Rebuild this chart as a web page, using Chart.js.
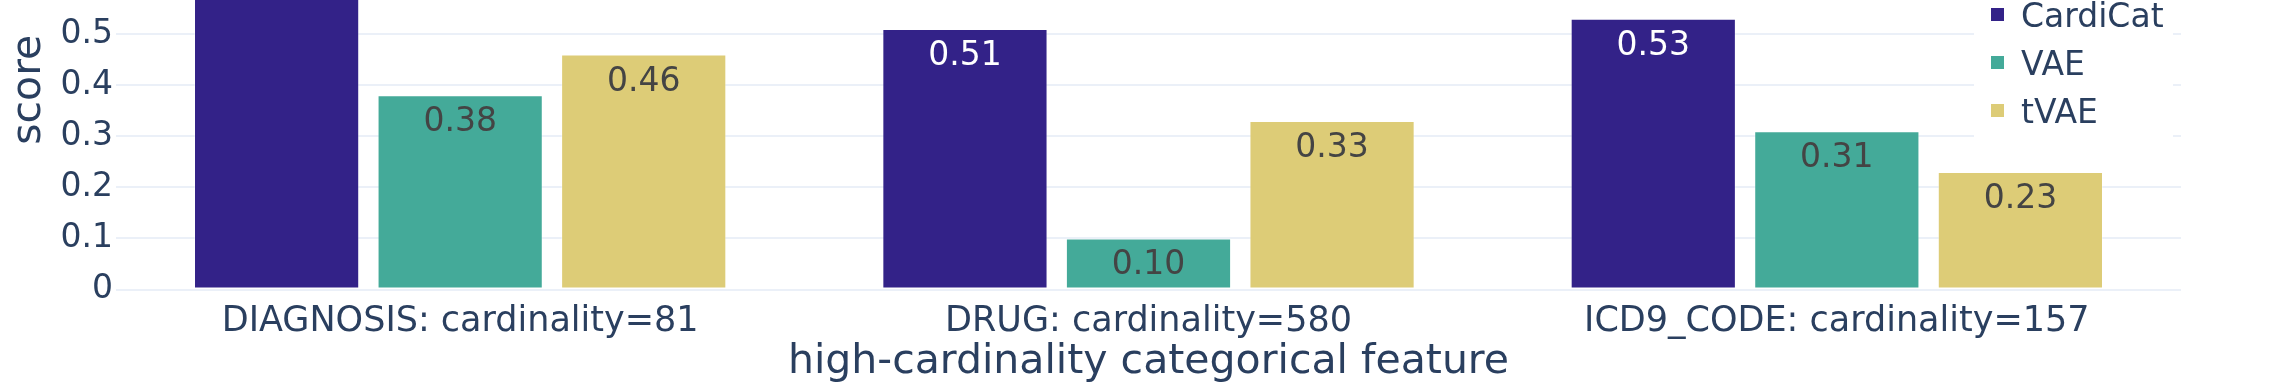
<!DOCTYPE html>
<html>
<head>
<meta charset="utf-8">
<script src="https://cdn.jsdelivr.net/npm/chart.js@4.4.0/dist/chart.umd.min.js"></script>
<style>
html, body { margin: 0; padding: 0; background: #fff; overflow: hidden; }
#wrap { position: relative; width: 2272px; height: 391px; overflow: hidden; }
#chart { position: absolute; left: 0; top: -110px; }
</style>
</head>
<body>
<div id="wrap"><canvas id="chart" width="2272" height="501"></canvas></div>
<script>
// data
const categories = ['DIAGNOSIS: cardinality=81', 'DRUG: cardinality=580', 'ICD9_CODE: cardinality=157'];
const seriesNames = ['CardiCat', 'VAE', 'tVAE'];
const cardicatScores = [0.74, 0.51, 0.53];
const vaeScores = [0.38, 0.10, 0.31];
const tvaeScores = [0.46, 0.33, 0.23];
const yTickStep = 0.1;

const textColor = '#2a3f5f';
const fontFamily = '"DejaVu Sans", Verdana, sans-serif';

// value labels inside the top of each bar
const barLabels = {
    id: 'barLabels',
    afterDatasetsDraw(chart) {
        const ctx = chart.ctx;
        ctx.save();
        ctx.font = '33px ' + fontFamily;
        ctx.textAlign = 'center';
        ctx.textBaseline = 'alphabetic';
        chart.data.datasets.forEach((ds, i) => {
            chart.getDatasetMeta(i).data.forEach((bar, j) => {
                ctx.fillStyle = i === 0 ? '#ffffff' : '#444444';
                ctx.fillText(ds.data[j].toFixed(2), bar.x, bar.y + 36);
            });
        });
        ctx.restore();
    }
};

// legend box sitting inside the plot, top right
const insideLegend = {
    id: 'insideLegend',
    afterDraw(chart) {
        const ctx = chart.ctx;
        const area = chart.chartArea;
        const right = area.right - 8;
        const left = right - 199;
        const firstY = area.top + 124.5;
        ctx.save();
        ctx.fillStyle = '#ffffff';
        ctx.fillRect(left, area.top + 90, right - left, 162);
        ctx.font = '33px ' + fontFamily;
        ctx.textAlign = 'left';
        ctx.textBaseline = 'alphabetic';
        chart.data.datasets.forEach((ds, i) => {
            const y = firstY + i * 48;
            ctx.fillStyle = ds.backgroundColor;
            ctx.fillRect(left + 17, y - 6.5, 13, 13);
            ctx.fillStyle = textColor;
            ctx.fillText(ds.label, left + 47, y + 12.5);
        });
        ctx.restore();
    }
};

const ctx = document.getElementById('chart').getContext('2d');
new Chart(ctx, {
    type: 'bar',
    data: {
        labels: categories,
        datasets: [
            { label: seriesNames[0], data: cardicatScores, backgroundColor: '#332288' },
            { label: seriesNames[1], data: vaeScores, backgroundColor: '#44AA99' },
            { label: seriesNames[2], data: tvaeScores, backgroundColor: '#DDCC77' }
        ].map(d => Object.assign(d, {
            borderColor: 'rgba(255,255,255,0.35)',
            borderWidth: 1,
            borderSkipped: false,
            categoryPercentage: 0.8,
            barPercentage: 0.9
        }))
    },
    options: {
        responsive: false,
        animation: false,
        layout: { autoPadding: false, padding: { left: 0, right: 91, top: 0, bottom: 0 } },
        plugins: {
            legend: { display: false },
            tooltip: { enabled: false }
        },
        scales: {
            x: {
                grid: { display: false },
                border: { display: false },
                ticks: {
                    color: textColor,
                    font: { family: fontFamily, size: 35 },
                    padding: 3,
                    maxRotation: 0
                },
                title: {
                    display: true,
                    text: 'high-cardinality categorical feature',
                    color: textColor,
                    font: { family: fontFamily, size: 41 },
                    padding: { top: 0, bottom: 4 }
                },
                afterFit(scale) { scale.height = 101.5; }
            },
            y: {
                min: 0,
                max: 0.782,
                grid: { color: '#EBF0F8', lineWidth: 2, drawTicks: false },
                border: { display: false },
                ticks: {
                    stepSize: yTickStep,
                    includeBounds: false,
                    color: textColor,
                    font: { family: fontFamily, size: 33 },
                    padding: 3,
                    callback: v => v === 0 ? '0' : v.toFixed(1)
                },
                title: {
                    display: true,
                    text: 'score',
                    color: textColor,
                    font: { family: fontFamily, size: 41 },
                    padding: { top: 5, bottom: 0 }
                },
                afterFit(scale) {
                    scale.width = 116;
                    scale.paddingTop = 0;
                    scale.paddingBottom = 0;
                }
            }
        }
    },
    plugins: [barLabels, insideLegend]
});
</script>
</body>
</html>
